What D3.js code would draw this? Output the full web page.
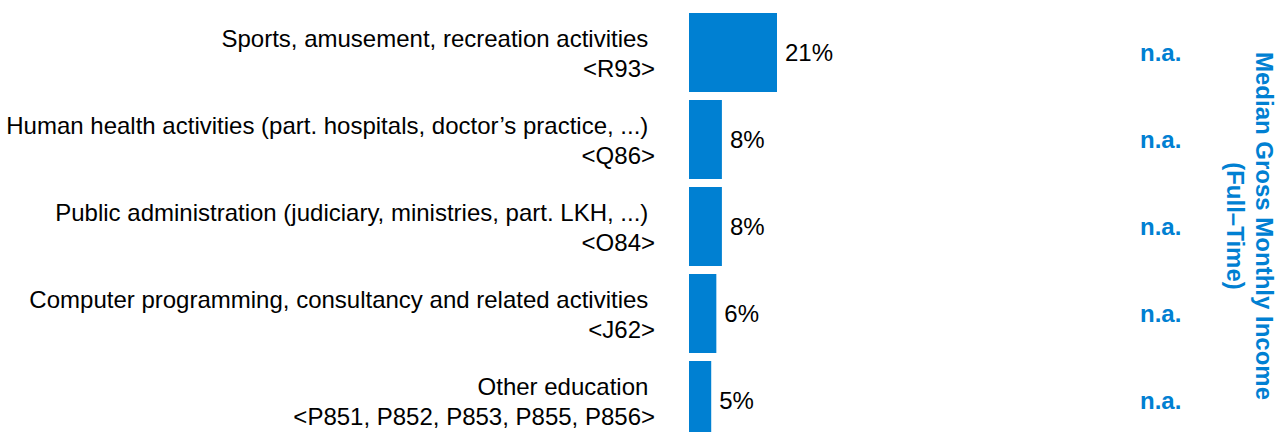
<!DOCTYPE html>
<html>
<head>
<meta charset="utf-8">
<script src="https://cdn.jsdelivr.net/npm/d3@7"></script>
<style>
  html, body { margin: 0; padding: 0; background: #fff; overflow: hidden; }
  svg { display: block; font-family: "Liberation Sans", Arial, sans-serif; }
</style>
</head>
<body>
<svg id="chart"></svg>
<script>
"use strict"

// data
const categories = [
    "Sports, amusement, recreation activities",
    "Human health activities (part. hospitals, doctor’s practice, ...)",
    "Public administration (judiciary, ministries, part. LKH, ...)",
    "Computer programming, consultancy and related activities",
    "Other education"
]
const codes = ["<R93>", "<Q86>", "<O84>", "<J62>", "<P851, P852, P853, P855, P856>"]
const shares = [20.6, 7.7, 7.7, 6.4, 5.2]
const incomes = ["n.a.", "n.a.", "n.a.", "n.a.", "n.a."]
const titleLines = ["Median Gross Monthly Income", "(Full–Time)"]

const W = 1282, H = 432
const blue = "#0080d2"

const svg = d3.select("#chart").attr("width", W).attr("height", H)

const rows = categories.map((c, i) => ({ cat: c, code: codes[i], v: shares[i], inc: incomes[i] }))

const y = d3.scaleBand()
    .domain(d3.range(rows.length))
    .range([9, 9 + 87 * rows.length])
    .paddingInner(8 / 87)
    .paddingOuter(4 / 87)

const x = d3.scaleLinear().domain([0, 20.6]).range([689, 777])
const pct = v => d3.format(".0f")(v) + "%"

const g = svg.selectAll("g.row").data(rows).join("g")
    .attr("class", "row")
    .attr("transform", (d, i) => `translate(0,${y(i)})`)

const bh = y.bandwidth()

g.append("rect")
    .attr("x", x(0))
    .attr("y", 0)
    .attr("width", d => x(d.v) - x(0))
    .attr("height", bh)
    .attr("fill", blue)

// category label, two lines, right aligned
g.append("text")
    .attr("x", 655)
    .attr("y", bh / 2 - 6)
    .attr("text-anchor", "end")
    .attr("font-size", 24)
    .attr("fill", "#000")
    .text(d => d.cat + "\u00a0")
g.append("text")
    .attr("x", 655)
    .attr("y", bh / 2 + 24)
    .attr("text-anchor", "end")
    .attr("font-size", 24)
    .attr("fill", "#000")
    .text(d => d.code)

// value labels
g.append("text")
    .attr("x", d => x(d.v) + 8)
    .attr("y", bh / 2)
    .attr("dy", "0.35em")
    .attr("font-size", 24)
    .attr("fill", "#000")
    .text(d => pct(d.v))

// income column
g.append("text")
    .attr("x", 1140)
    .attr("y", bh / 2)
    .attr("dy", "0.35em")
    .attr("font-size", 24)
    .attr("font-weight", "bold")
    .attr("fill", blue)
    .text(d => d.inc)

// rotated column title
const title = svg.append("text")
    .attr("transform", "translate(1256,226) rotate(90)")
    .attr("text-anchor", "middle")
    .attr("font-size", 24)
    .attr("font-weight", "bold")
    .attr("fill", blue)
title.selectAll("tspan").data(titleLines).join("tspan")
    .attr("x", 0)
    .attr("y", (d, i) => i * 29.5)
    .text(d => d)
</script>
</body>
</html>
